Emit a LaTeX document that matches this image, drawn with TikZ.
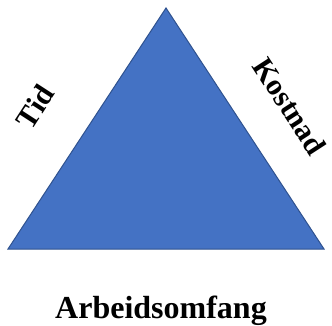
\documentclass[tikz,border=0pt]{standalone}
\usepackage{fontspec}
\setmainfont{Liberation Serif}
\definecolor{trifill}{HTML}{4472C4}
\definecolor{triedge}{HTML}{2F528F}
\tikzset{
  sidelabel/.style={font=\fontsize{30}{30}\selectfont\bfseries, inner sep=0pt},
  baselabel/.style={font=\fontsize{32}{32}\selectfont\bfseries, inner sep=0pt}
}
\begin{document}
\begin{tikzpicture}[x=1pt,y=-1pt]
\useasboundingbox (0,0) rectangle (332,326);
\coordinate (top) at (166,8);
\coordinate (bl) at (8,249);
\coordinate (br) at (324,249);
\draw[triedge, fill=trifill, line width=1pt, line join=miter] (top) -- (br) -- (bl) -- cycle;
\node[sidelabel, rotate=57] (tid) at (35,107) {Tid};
\node[sidelabel, rotate=-57] (kost) at (290,106) {Kostnad};
\node[baselabel, anchor=base] (arb) at (161,318) {Arbeidsomfang};
\end{tikzpicture}
\end{document}
